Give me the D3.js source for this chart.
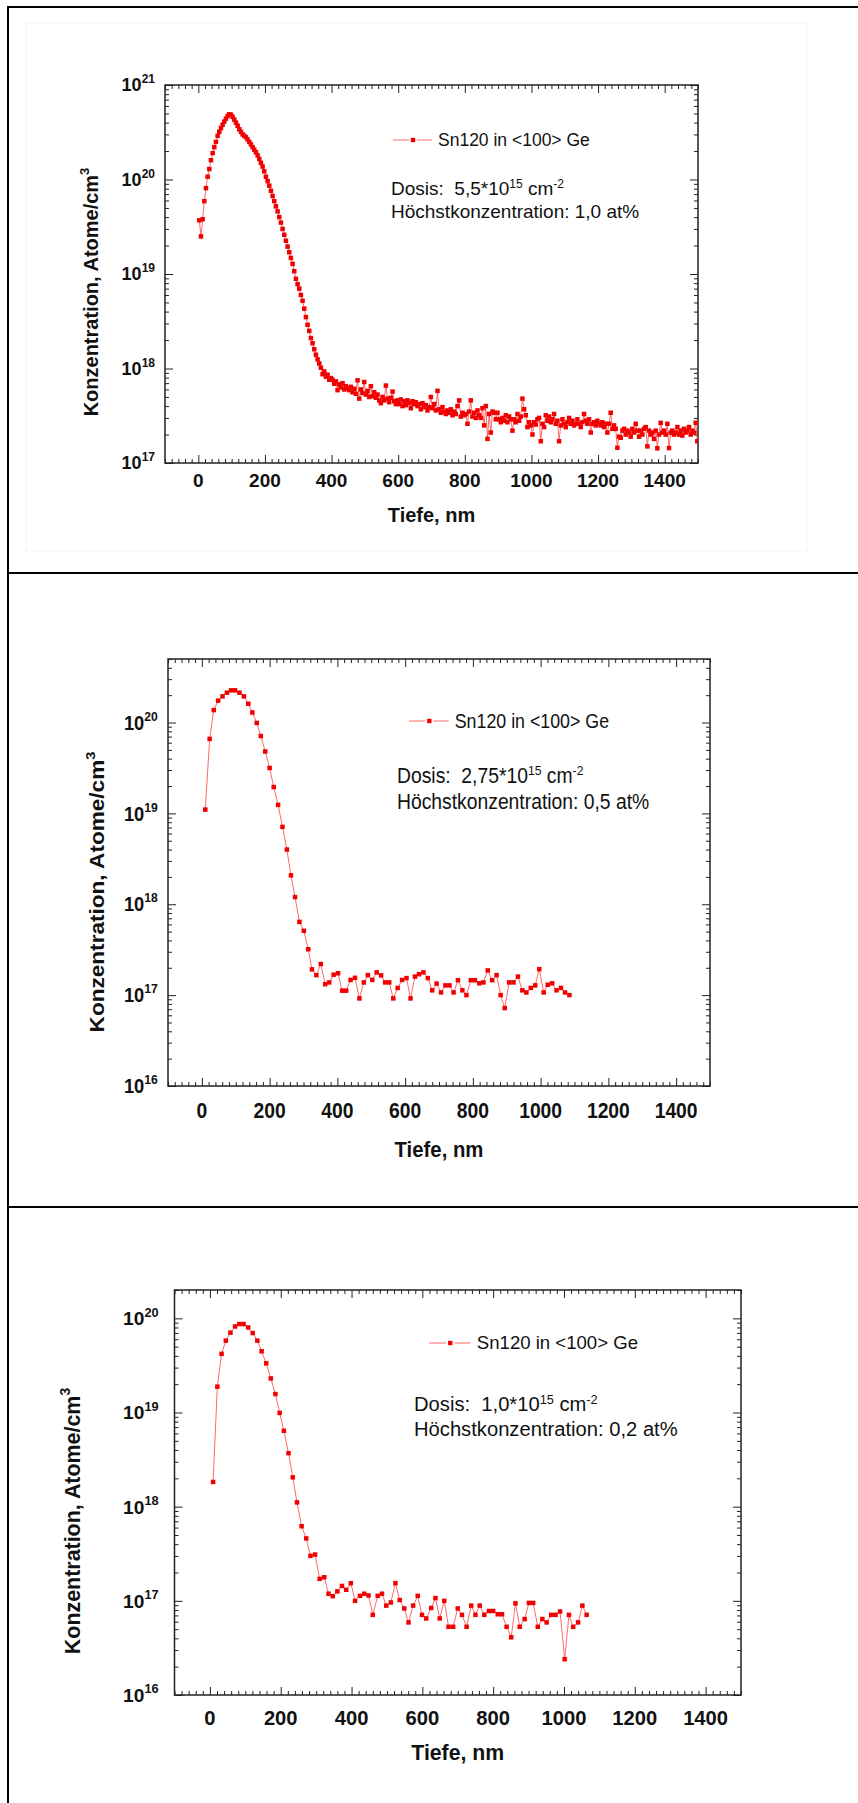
<!DOCTYPE html>
<html>
<head>
  <meta charset="utf-8">
  <title>Sn120 in Ge - Tiefenprofile</title>
  <style>
    body { margin: 0; background: #fff; }
    svg { display: block; font-family: "Liberation Sans", Arial, sans-serif; }
    .sheet { stroke: #000; stroke-width: 2px; fill: none; }
    .frame { fill: none; stroke: #222; stroke-width: 1.5px; }
    .tick line { stroke: #222; stroke-width: 1px; }
    .profile { fill: none; stroke: #ff4444; stroke-width: 0.8px; }
    .dot { fill: #f00000; }
    text { white-space: pre; fill: #111; }
  </style>
</head>
<body>
  <svg width="858" height="1803"></svg>
  <script src="https://d3js.org/d3.v7.min.js"></script>
  <script>
    // ---------- data ----------
    const depth1 = [
      3, 8, 13, 18, 23, 28, 33, 38, 43, 48,
      53, 58, 63, 68, 73, 78, 83, 88, 93, 98,
      103, 108, 113, 118, 123, 128, 133, 138, 143, 148,
      153, 158, 163, 168, 173, 178, 183, 188, 193, 198,
      203, 208, 213, 218, 223, 228, 233, 238, 243, 248,
      253, 258, 263, 268, 273, 278, 283, 288, 293, 298,
      303, 308, 313, 318, 323, 328, 333, 338, 343, 348,
      353, 358, 363, 368, 373, 378, 383, 388, 393, 398,
      403, 408, 413, 418, 423, 428, 433, 438, 443, 448,
      453, 458, 463, 468, 473, 478, 483, 488, 493, 498,
      503, 508, 513, 518, 523, 528, 533, 538, 543, 548,
      553, 558, 563, 568, 573, 578, 583, 588, 593, 598,
      603, 608, 613, 618, 623, 628, 633, 638, 643, 648,
      653, 658, 663, 668, 673, 678, 683, 688, 693, 698,
      703, 708, 713, 718, 723, 728, 733, 738, 743, 748,
      753, 758, 763, 768, 773, 778, 783, 788, 793, 798,
      803, 808, 813, 818, 823, 828, 833, 838, 843, 848,
      853, 858, 863, 868, 873, 878, 883, 888, 893, 898,
      903, 908, 913, 918, 923, 928, 933, 938, 943, 948,
      953, 958, 963, 968, 973, 978, 983, 988, 993, 998,
      1003, 1008, 1013, 1018, 1023, 1028, 1033, 1038, 1043, 1048,
      1053, 1058, 1063, 1068, 1073, 1078, 1083, 1088, 1093, 1098,
      1103, 1108, 1113, 1118, 1123, 1128, 1133, 1138, 1143, 1148,
      1153, 1158, 1163, 1168, 1173, 1178, 1183, 1188, 1193, 1198,
      1203, 1208, 1213, 1218, 1223, 1228, 1233, 1238, 1243, 1248,
      1253, 1258, 1263, 1268, 1273, 1278, 1283, 1288, 1293, 1298,
      1303, 1308, 1313, 1318, 1323, 1328, 1333, 1338, 1343, 1348,
      1353, 1358, 1363, 1368, 1373, 1378, 1383, 1388, 1393, 1398,
      1403, 1408, 1413, 1418, 1423, 1428, 1433, 1438, 1443, 1448,
      1453, 1458, 1463, 1468, 1473, 1478, 1483, 1488, 1493, 1498
    ];
    const conc1 = [
      3.7e19, 2.5e19, 3.8e19, 5.9e19, 8.1e19, 1.07e20, 1.29e20, 1.6e20, 1.9e20, 2.2e20,
      2.5e20, 2.9e20, 3.2e20, 3.5e20, 3.8e20, 4.1e20, 4.4e20, 4.7e20, 4.9e20, 4.85e20,
      4.6e20, 4.3e20, 4.0e20, 3.7e20, 3.4e20, 3.2e20, 3.0e20, 2.9e20, 2.8e20, 2.65e20,
      2.5e20, 2.35e20, 2.2e20, 2.07e20, 1.94e20, 1.8e20, 1.65e20, 1.5e20, 1.37e20, 1.22e20,
      1.07e20, 9.6e19, 8.6e19, 7.6e19, 6.7e19, 5.9e19, 5.2e19, 4.6e19, 4.0e19, 3.5e19,
      3.0e19, 2.6e19, 2.25e19, 1.95e19, 1.7e19, 1.48e19, 1.28e19, 1.07e19, 8.9e18, 7.8e18,
      7.0e18, 6.0e18, 5.2e18, 4.3e18, 3.5e18, 2.9e18, 2.5e18, 2.1e18, 1.85e18, 1.6e18,
      1.4e18, 1.25e18, 1.13e18, 1.02e18, 8.7e17, 9.3e17, 8.2e17, 8.6e17, 7.6e17, 7.9e17,
      7.6e17, 6.9e17, 7.3e17, 5.9e17, 6.8e17, 6.3e17, 7.0e17, 6.0e17, 6.5e17, 6.2e17,
      5.9e17, 6.4e17, 5.6e17, 6.1e17, 5.4e17, 7.5e17, 4.8e17, 6.0e17, 5.5e17, 7.2e17,
      5.3e17, 5.8e17, 5.0e17, 6.5e17, 5.1e17, 5.6e17, 4.9e17, 5.3e17, 4.6e17, 4.3e17,
      5.0e17, 4.6e17, 6.6e17, 4.8e17, 4.4e17, 4.9e17, 5.7e17, 4.5e17, 4.2e17, 4.6e17,
      4.2e17, 4.7e17, 4.0e17, 4.5e17, 4.1e17, 4.6e17, 4.3e17, 3.8e17, 4.5e17, 4.2e17,
      4.4e17, 4.0e17, 4.2e17, 3.7e17, 4.3e17, 3.9e17, 4.1e17, 3.6e17, 3.9e17, 5.0e17,
      3.8e17, 4.2e17, 3.6e17, 5.8e17, 3.7e17, 3.4e17, 3.9e17, 3.5e17, 3.3e17, 3.6e17,
      3.4e17, 3.7e17, 3.2e17, 3.5e17, 3.3e17, 4.0e17, 4.6e17, 3.1e17, 3.4e17, 3.2e17,
      3.3e17, 2.6e17, 3.5e17, 4.6e17, 3.1e17, 3.4e17, 3.0e17, 3.6e17, 3.2e17, 3.0e17,
      3.8e17, 2.5e17, 4.0e17, 1.8e17, 3.3e17, 2.1e17, 3.5e17, 3.4e17, 2.9e17, 3.4e17,
      2.9e17, 2.7e17, 3.0e17, 2.8e17, 3.2e17, 2.7e17, 3.1e17, 2.9e17, 2.2e17, 2.9e17,
      2.7e17, 3.3e17, 2.8e17, 3.1e17, 4.8e17, 3.7e17, 3.2e17, 2.4e17, 2.7e17, 2.5e17,
      2.0e17, 2.7e17, 2.55e17, 2.9e17, 3.0e17, 1.7e17, 2.6e17, 2.4e17, 3.2e17, 2.8e17,
      3.1e17, 2.7e17, 2.9e17, 3.3e17, 2.6e17, 2.8e17, 1.7e17, 2.5e17, 2.9e17, 2.6e17,
      2.4e17, 2.7e17, 3.0e17, 2.6e17, 2.8e17, 2.5e17, 2.6e17, 2.9e17, 2.6e17, 2.4e17,
      2.7e17, 3.3e17, 2.8e17, 2.6e17, 2.9e17, 2.1e17, 2.6e17, 2.7e17, 2.5e17, 2.8e17,
      2.6e17, 2.5e17, 2.7e17, 2.4e17, 2.6e17, 2.1e17, 2.6e17, 3.4e17, 2.3e17, 2.5e17,
      2.3e17, 1.45e17, 1.9e17, 1.85e17, 2.2e17, 2.3e17, 2.0e17, 2.2e17, 2.1e17, 1.9e17,
      2.3e17, 2.1e17, 2.6e17, 2.2e17, 1.9e17, 2.2e17, 2.0e17, 2.3e17, 2.4e17, 1.5e17,
      2.2e17, 2.0e17, 2.1e17, 1.8e17, 2.2e17, 1.43e17, 2.0e17, 2.66e17, 2.1e17, 2.2e17,
      2.0e17, 2.6e17, 1.44e17, 2.1e17, 2.2e17, 2.0e17, 2.1e17, 2.4e17, 2.0e17, 2.2e17,
      1.95e17, 2.3e17, 2.1e17, 2.2e17, 2.4e17, 2.0e17, 2.2e17, 2.1e17, 2.66e17, 1.7e17
    ];

    const depth2 = [
      10, 23, 35, 48, 61, 74, 86, 98, 111, 124,
      137, 149, 162, 174, 187, 200, 212, 225, 238, 251,
      263, 275, 288, 301, 314, 325, 338, 351, 364, 376,
      389, 402, 414, 426, 439, 452, 465, 478, 490, 503,
      516, 529, 541, 553, 565, 578, 591, 604, 616, 629,
      641, 654, 667, 680, 693, 706, 719, 731, 743, 756,
      769, 781, 794, 806, 819, 831, 844, 857, 870, 882,
      894, 907, 920, 933, 946, 958, 971, 984, 996, 1009,
      1021, 1034, 1047, 1060, 1072, 1085
    ];
    const conc2 = [
      1.1e19, 6.6e19, 1.37e20, 1.74e20, 1.94e20, 2.13e20, 2.26e20, 2.26e20, 2.13e20, 1.94e20,
      1.61e20, 1.29e20, 9.9e19, 7.1e19, 4.8e19, 3.16e19, 1.95e19, 1.24e19, 7.1e18, 4.0e18,
      2.08e18, 1.2e18, 6.4e17, 5.1e17, 3.2e17, 1.92e17, 1.66e17, 2.2e17, 1.32e17, 1.38e17,
      1.68e17, 1.74e17, 1.12e17, 1.12e17, 1.47e17, 1.55e17, 9.2e16, 1.38e17, 1.66e17, 1.47e17,
      1.78e17, 1.65e17, 1.38e17, 1.38e17, 9.2e16, 1.2e17, 1.47e17, 1.54e17, 9.2e16, 1.6e17,
      1.7e17, 1.78e17, 1.54e17, 1.13e17, 1.34e17, 1.07e17, 1.28e17, 1.28e17, 1.07e17, 1.46e17,
      1.13e17, 1.0e17, 1.46e17, 1.46e17, 1.35e17, 1.38e17, 1.87e17, 1.46e17, 1.66e17, 1.0e17,
      7.2e16, 1.38e17, 1.38e17, 1.6e17, 1.13e17, 1.07e17, 1.2e17, 1.28e17, 1.93e17, 1.07e17,
      1.3e17, 1.35e17, 1.13e17, 1.2e17, 1.07e17, 1.0e17
    ];

    const depth3 = [
      9, 21, 33, 45, 58, 71, 83, 95, 108, 121,
      134, 146, 159, 172, 185, 197, 209, 222, 234, 246,
      259, 272, 284, 297, 310, 323, 335, 347, 360, 373,
      385, 398, 410, 424, 436, 448, 460, 474, 486, 498,
      511, 524, 536, 549, 561, 574, 587, 599, 611, 625,
      637, 649, 662, 674, 687, 700, 712, 725, 738, 750,
      762, 775, 788, 800, 813, 825, 838, 851, 863, 875,
      889, 901, 913, 926, 939, 951, 964, 976, 989, 1002,
      1014, 1026, 1040, 1052, 1064
    ];
    const conc3 = [
      1.83e18, 1.88e19, 4.2e19, 5.8e19, 7.05e19, 8.2e19, 8.7e19, 8.7e19, 8.0e19, 6.98e19,
      5.8e19, 4.47e19, 3.33e19, 2.3e19, 1.57e19, 9.9e18, 6.4e18, 3.7e18, 2.05e18, 1.11e18,
      6.2e17, 4.6e17, 3.0e17, 3.1e17, 1.71e17, 1.78e17, 1.19e17, 1.12e17, 1.26e17, 1.44e17,
      1.31e17, 1.54e17, 1.0e17, 1.13e17, 1.19e17, 1.14e17, 7.1e16, 1.13e17, 1.19e17, 8.9e16,
      9.6e16, 1.54e17, 1.02e17, 8.3e16, 5.9e16, 8.9e16, 1.13e17, 7.1e16, 6.5e16, 8.4e16,
      1.07e17, 6.5e16, 1.0e17, 5.3e16, 5.3e16, 8.3e16, 7.1e16, 5.3e16, 8.9e16, 7.1e16,
      8.9e16, 7.1e16, 7.8e16, 7.8e16, 7.2e16, 7.2e16, 5.3e16, 4.1e16, 9.4e16, 5.3e16,
      6.4e16, 9.5e16, 9.5e16, 5.3e16, 6.4e16, 5.9e16, 7.1e16, 7.1e16, 7.7e16, 2.4e16,
      7.1e16, 5.3e16, 5.9e16, 8.9e16, 7.1e16
    ];

    const xTickValues = [0, 200, 400, 600, 800, 1000, 1200, 1400];
    const xDomain = [-100, 1500];
    const yDomains = [[1e17, 1e21], [1e16, 5e20], [1e16, 2e20]];
    const legendText = "Sn120 in <100> Ge";
    const doses = ["5,5", "2,75", "1,0"];
    const peaks = ["1,0", "0,5", "0,2"];
    const xTitle = "Tiefe, nm";
    const yTitle = "Konzentration, Atome/cm";

    // ---------- layout of the three pictures ----------
    const svg = d3.select("svg");

    const layout = [
      { left: 165, right: 698, top: 85, bottom: 463, legX: 393, legY: 140,
        noteX: 391, noteY: 195, yTitleX: 98, yTitleY: 292, xLabDy: 24, xTitleY: 522, yLabGap: 10 },
      { left: 168, right: 710, top: 659, bottom: 1086, legX: 409, legY: 721,
        noteX: 397, noteY: 783, yTitleX: 104, yTitleY: 892, xLabDy: 32, xTitleY: 1157, yLabGap: 10 },
      { left: 174.5, right: 741, top: 1290, bottom: 1695, legX: 429, legY: 1343,
        noteX: 414, noteY: 1411, yTitleX: 80, yTitleY: 1521, xLabDy: 30, xTitleY: 1760, yLabGap: 15 }
    ];

    // sheet borders (table around the three images)
    svg.append("path").attr("class", "sheet")
      .attr("d", "M8,1803V7H858M8,573H858M8,1207H858");
    svg.append("rect")
      .attr("x", 26).attr("y", 23).attr("width", 781).attr("height", 528)
      .attr("fill", "none").attr("stroke", "#f4f4f4");

    function place(parent, px, py, kx, ky) {
      return parent.append("text")
        .attr("transform", `translate(${px},${py}) scale(${kx},${ky})`);
    }

    function drawPanel(depth, conc, idx) {
      const p = layout[idx];
      const kx = (p.right - p.left) / 533, ky = (p.bottom - p.top) / 378;
      const x = d3.scaleLinear().domain(xDomain).range([p.left, p.right]);
      const y = d3.scaleLog().domain(yDomains[idx]).range([p.bottom, p.top]);
      const g = svg.append("g");

      // ticks, all pointing inwards, on four sides
      const xMinor = d3.range(-100, 1501, 20).filter(v => v % 200 !== 0);
      const yAll = y.ticks();
      const isPow = v => Math.abs(Math.log10(v) - Math.round(Math.log10(v))) < 1e-6;
      const yMajor = yAll.filter(isPow), yMinor = yAll.filter(v => !isPow(v));

      const axes = [
        [d3.axisBottom(x), `translate(0,${p.bottom})`, xTickValues, xMinor],
        [d3.axisTop(x), `translate(0,${p.top})`, xTickValues, xMinor],
        [d3.axisLeft(y), `translate(${p.left},0)`, yMajor, yMinor],
        [d3.axisRight(y), `translate(${p.right},0)`, yMajor, yMinor]
      ];
      axes.forEach(([ax, tr, major, minor]) => {
        g.append("g").attr("transform", tr)
          .call(ax.tickValues(major).tickSize(-8).tickSizeOuter(0).tickFormat(""))
          .call(s => s.select(".domain").remove());
        g.append("g").attr("transform", tr)
          .call(ax.tickValues(minor).tickSize(-4).tickSizeOuter(0).tickFormat(""))
          .call(s => s.select(".domain").remove());
      });

      g.append("rect").attr("class", "frame")
        .attr("x", p.left).attr("y", p.top)
        .attr("width", p.right - p.left).attr("height", p.bottom - p.top);

      // x tick labels
      xTickValues.forEach(v => {
        place(g, x(v), p.bottom + p.xLabDy, kx, ky)
          .attr("text-anchor", "middle")
          .style("font-size", "19px").style("font-weight", "bold")
          .text(v);
      });

      // y tick labels 10^n
      yMajor.forEach(v => {
        const t = place(g, p.left - p.yLabGap * kx, y(v) + 6.4 * ky, kx, ky)
          .attr("text-anchor", "end").style("font-weight", "bold");
        t.append("tspan").style("font-size", "18px").text("10");
        t.append("tspan").style("font-size", "12px").attr("dy", -8)
          .text(Math.round(Math.log10(v)));
      });

      // axis titles
      place(g, (p.left + p.right) / 2, p.xTitleY, kx, ky)
        .attr("text-anchor", "middle")
        .style("font-size", "20px").style("font-weight", "bold")
        .text(xTitle);
      const yt = g.append("text")
        .attr("transform", `translate(${p.yTitleX},${p.yTitleY}) rotate(-90) scale(${ky},${kx})`)
        .attr("text-anchor", "middle")
        .style("font-size", "20px").style("font-weight", "bold");
      yt.append("tspan").text(yTitle);
      yt.append("tspan").style("font-size", "13px").attr("dy", -9).text("3");

      // the profile
      const pts = depth.map((d, i) => ({ d, c: conc[i] }));
      const clipId = "clip" + idx;
      g.append("clipPath").attr("id", clipId).append("rect")
        .attr("x", p.left).attr("y", p.top)
        .attr("width", p.right - p.left).attr("height", p.bottom - p.top);
      const plot = g.append("g").attr("clip-path", `url(#${clipId})`);
      plot.append("path").datum(pts).attr("class", "profile")
        .attr("d", d3.line().x(e => x(e.d)).y(e => y(e.c)));
      const ms = 4.5;
      plot.selectAll("rect.dot").data(pts).join("rect").attr("class", "dot")
        .attr("x", e => x(e.d) - ms / 2).attr("y", e => y(e.c) - ms / 2)
        .attr("width", ms).attr("height", ms);

      // legend
      const lx = p.legX, ly = p.legY;
      g.append("line").attr("class", "profile")
        .attr("x1", lx).attr("x2", lx + 16 * kx).attr("y1", ly).attr("y2", ly);
      g.append("line").attr("class", "profile")
        .attr("x1", lx + 24 * kx).attr("x2", lx + 39 * kx).attr("y1", ly).attr("y2", ly);
      g.append("rect").attr("class", "dot")
        .attr("x", lx + 20 * kx - 2.2).attr("y", ly - 2.2).attr("width", 4.4).attr("height", 4.4);
      place(g, lx + 45 * kx, ly + 6 * ky, kx, ky)
        .style("font-size", "17.5px").text(legendText);

      // dose / peak annotation
      const n1 = place(g, p.noteX, p.noteY, kx, ky).style("font-size", "19px");
      n1.append("tspan").text("Dosis:  " + doses[idx] + "*10");
      n1.append("tspan").style("font-size", "12px").attr("dy", -7).text("15");
      n1.append("tspan").attr("dy", 7).text(" cm");
      n1.append("tspan").style("font-size", "12px").attr("dy", -7).text("-2");
      place(g, p.noteX, p.noteY + 23 * ky, kx, ky).style("font-size", "19px")
        .text("Höchstkonzentration: " + peaks[idx] + " at%");
    }

    drawPanel(depth1, conc1, 0);
    drawPanel(depth2, conc2, 1);
    drawPanel(depth3, conc3, 2);
  </script>
</body>
</html>
